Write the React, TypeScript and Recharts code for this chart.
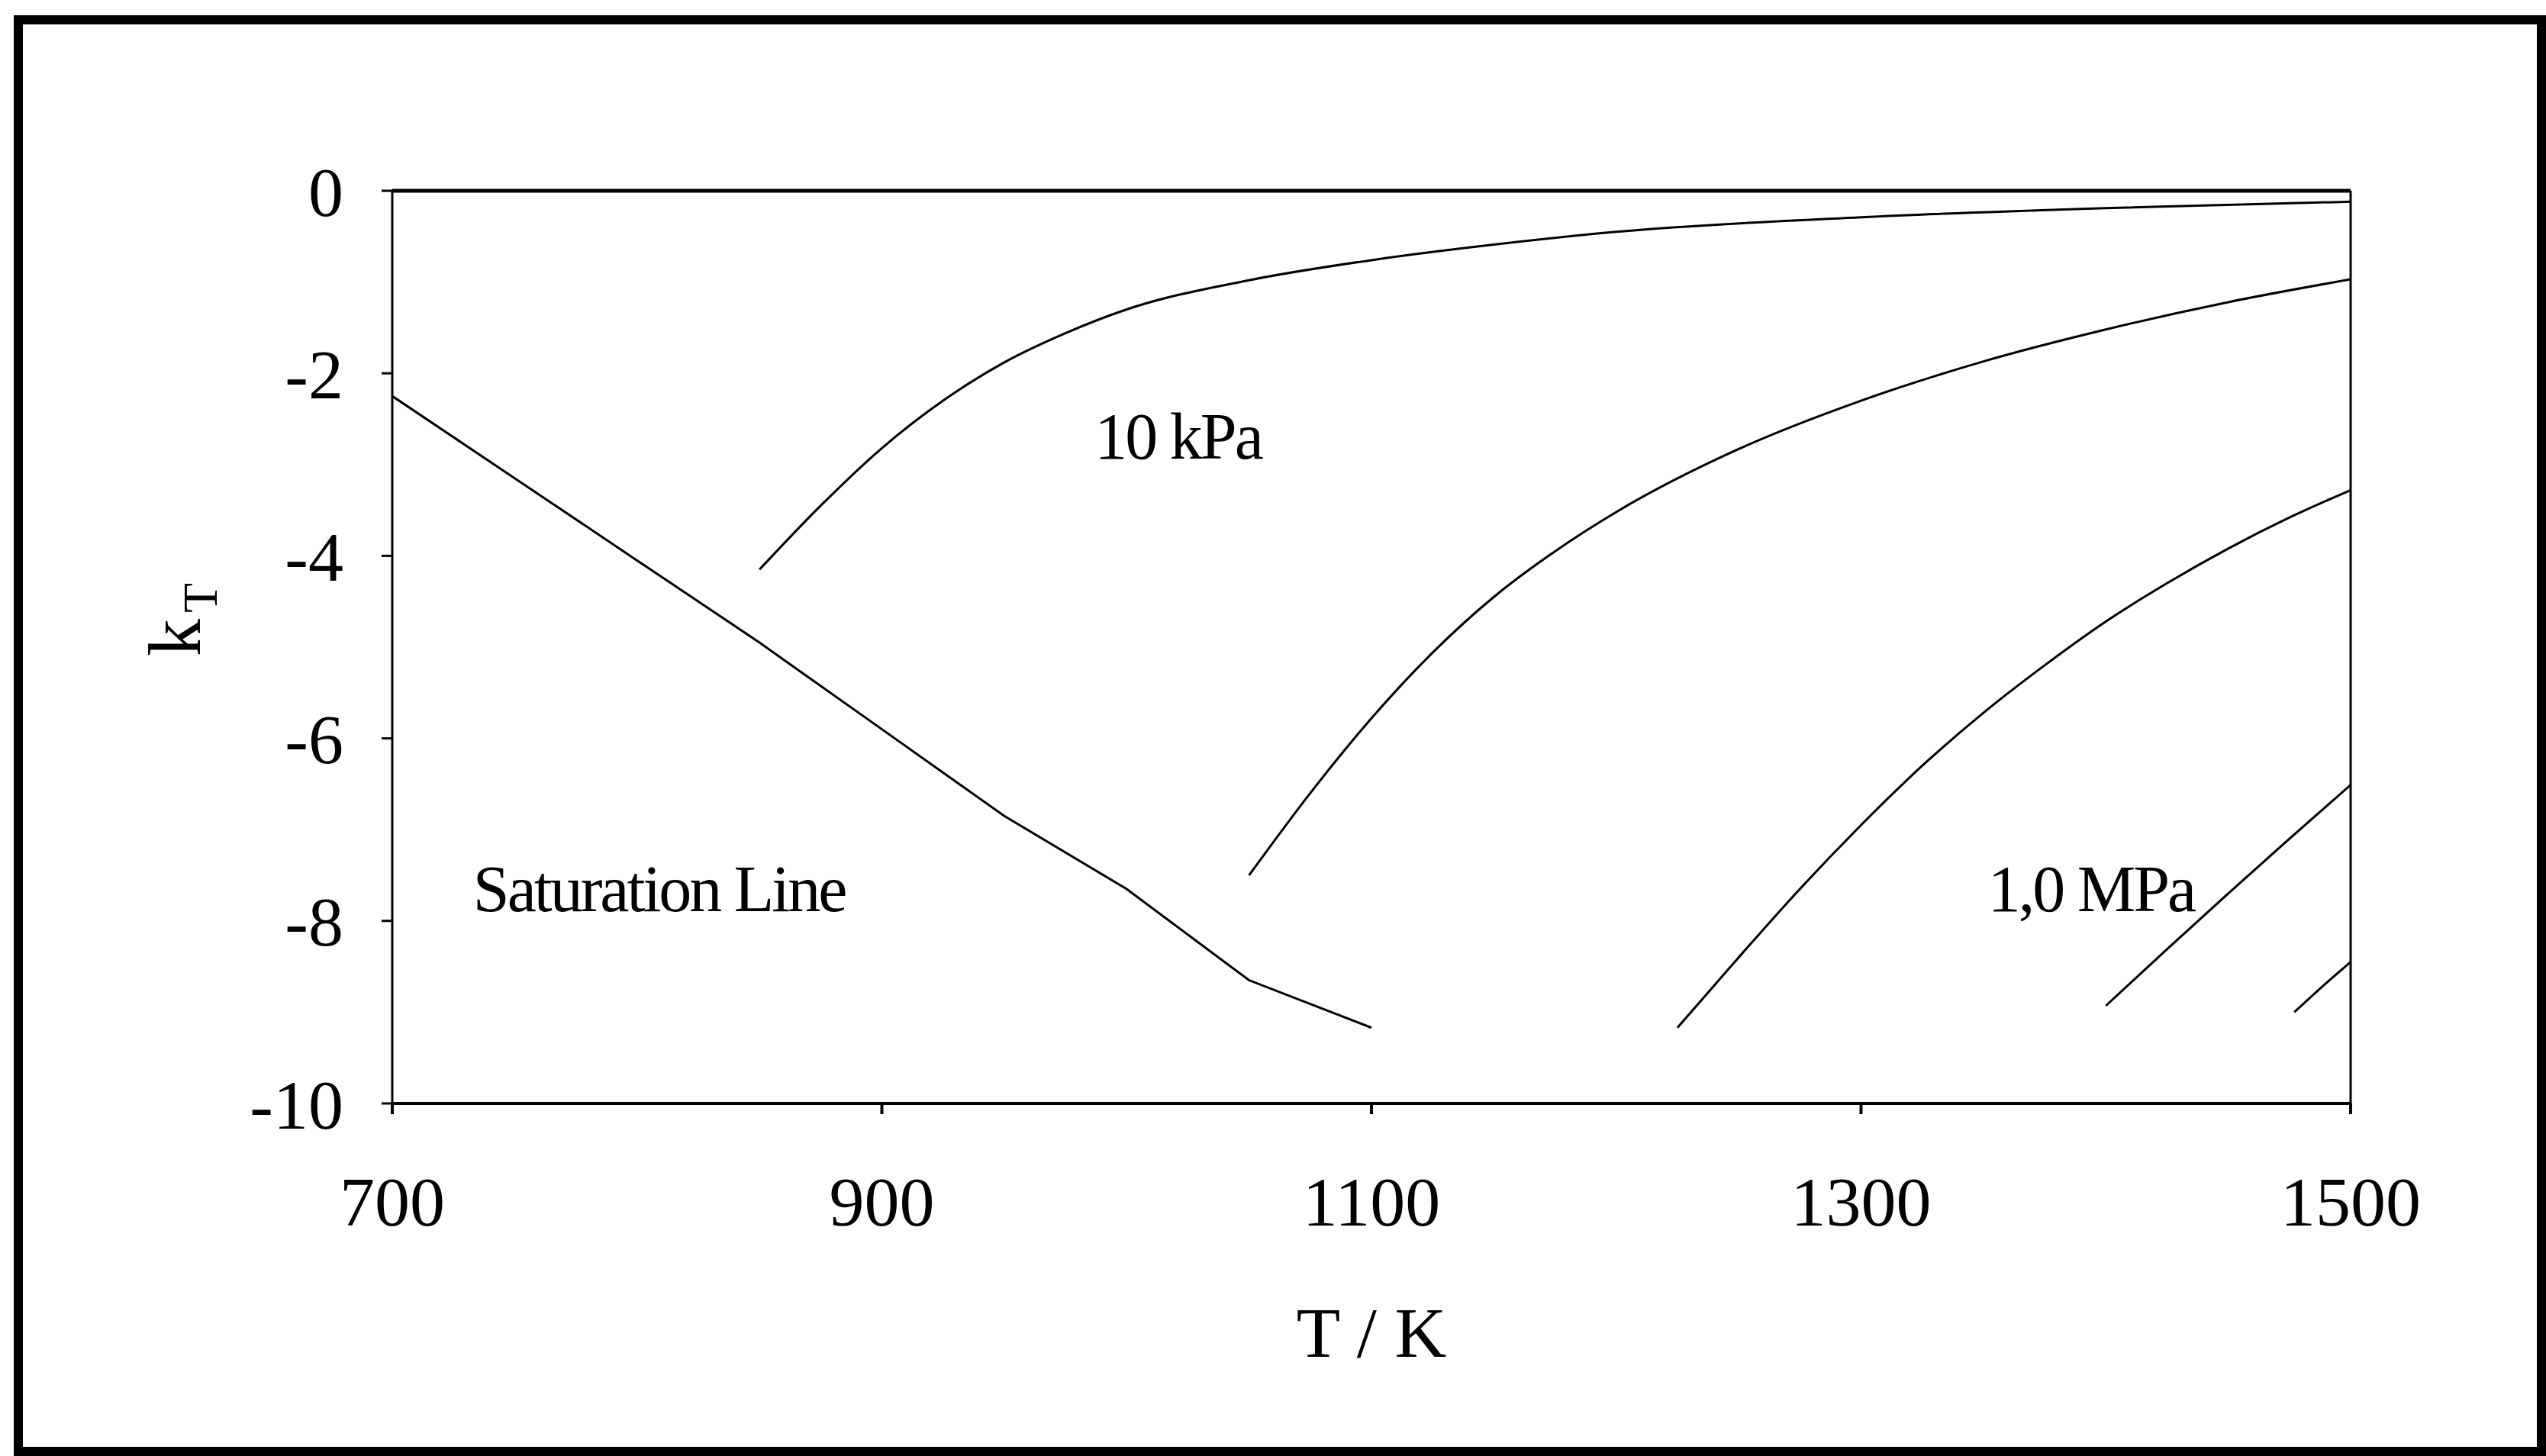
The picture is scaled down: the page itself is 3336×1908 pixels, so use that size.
import { LineChart, Line, XAxis, YAxis, ReferenceLine, ReferenceDot } from 'recharts';

// Saturation line
const satT = [700, 750, 800, 850, 900, 950, 1000, 1050, 1100];
const satK = [-2.25, -3.15, -4.05, -4.95, -5.9, -6.85, -7.65, -8.65, -9.17];

// 10 kPa
const p1T = [850, 875, 900, 925, 950, 975, 1000, 1050, 1100, 1150, 1200, 1300, 1400, 1500];
const p1K = [-4.15, -3.45, -2.82, -2.3, -1.88, -1.56, -1.3, -0.98, -0.76, -0.59, -0.45, -0.29, -0.19, -0.12];

// next isobar
const p2T = [1050, 1075, 1100, 1125, 1150, 1175, 1200, 1250, 1300, 1350, 1400, 1450, 1500];
const p2K = [-7.5, -6.6, -5.78, -5.06, -4.45, -3.95, -3.52, -2.83, -2.3, -1.87, -1.52, -1.22, -0.97];

const p3T = [1225, 1250, 1275, 1300, 1325, 1350, 1375, 1400, 1425, 1450, 1475, 1500];
const p3K = [-9.17, -8.4, -7.65, -6.95, -6.3, -5.72, -5.2, -4.72, -4.3, -3.92, -3.58, -3.28];

// 1,0 MPa
const p4T = [1400, 1425, 1450, 1475, 1500];
const p4K = [-8.93, -8.31, -7.7, -7.1, -6.51];

const p5T = [1477, 1488, 1500];
const p5K = [-9.0, -8.73, -8.45];

const xTicks = [700, 900, 1100, 1300, 1500];
const yTicks = [0, -2, -4, -6, -8, -10];

const toPoints = (ts: number[], ks: number[]) => ts.map((T, i) => ({ T, k: ks[i] }));

const series = [
  { name: 'Saturation Line', data: toPoints(satT, satK), type: 'linear' },
  { name: '10 kPa', data: toPoints(p1T, p1K), type: 'monotone' },
  { name: 'p2', data: toPoints(p2T, p2K), type: 'monotone' },
  { name: 'p3', data: toPoints(p3T, p3K), type: 'monotone' },
  { name: '1,0 MPa', data: toPoints(p4T, p4K), type: 'monotone' },
  { name: 'p5', data: toPoints(p5T, p5K), type: 'monotone' },
];

const serif = '"Liberation Serif", "Times New Roman", serif';
const tickStyle = { fill: '#000', fontSize: 92, fontFamily: serif };
const noteStyle = { fill: '#000', fontSize: 86, fontFamily: serif, letterSpacing: -3 };

const YLabel = () => (
  <text
    x={262}
    y={812}
    transform="rotate(-90 262 812)"
    textAnchor="middle"
    fontFamily={serif}
    fontSize={98}
    fill="#000"
  >
    k
    <tspan fontSize={64} dx={8} dy={22}>
      T
    </tspan>
  </text>
);

export default function App() {
  return (
    <div style={{ position: 'absolute', left: 0, top: 0, width: 3336, height: 1908, background: '#fff' }}>
      <div
        style={{
          position: 'absolute',
          left: 18,
          top: 20,
          width: 3318,
          height: 1888,
          border: '12px solid #000',
          boxSizing: 'border-box',
        }}
      />
      <LineChart
        width={3336}
        height={1908}
        margin={{ top: 250, right: 256, left: 314, bottom: 122 }}
        style={{ position: 'absolute', left: 0, top: 0 }}
      >
        <XAxis
          dataKey="T"
          type="number"
          domain={[700, 1500]}
          ticks={xTicks}
          allowDataOverflow
          height={340}
          tickSize={14}
          tickMargin={81}
          tick={tickStyle}
          stroke="#000"
          strokeWidth={4}
          label={{ value: 'T / K', position: 'insideBottom', offset: 8, fill: '#000', fontSize: 94, fontFamily: serif }}
        />
        <YAxis
          dataKey="k"
          type="number"
          domain={[-10, 0]}
          ticks={yTicks}
          allowDataOverflow
          width={200}
          tickSize={14}
          tickMargin={50}
          tick={tickStyle}
          stroke="#000"
          strokeWidth={3}
          label={{ content: () => <YLabel /> }}
        />
        <ReferenceLine y={0} stroke="#000" strokeWidth={5} />
        <ReferenceLine x={1500} stroke="#000" strokeWidth={3} />
        {series.map((s) => (
          <Line
            key={s.name}
            data={s.data}
            dataKey="k"
            type={s.type as any}
            stroke="#000"
            strokeWidth={3}
            dot={false}
            activeDot={false}
            isAnimationActive={false}
          />
        ))}
        <ReferenceDot x={1021} y={-2.68} r={0} stroke="none" label={{ value: '10 kPa', position: 'center', ...noteStyle }} />
        <ReferenceDot x={809} y={-7.64} r={0} stroke="none" label={{ value: 'Saturation Line', position: 'center', ...noteStyle }} />
        <ReferenceDot x={1394} y={-7.64} r={0} stroke="none" label={{ value: '1,0 MPa', position: 'center', ...noteStyle }} />
      </LineChart>
    </div>
  );
}
